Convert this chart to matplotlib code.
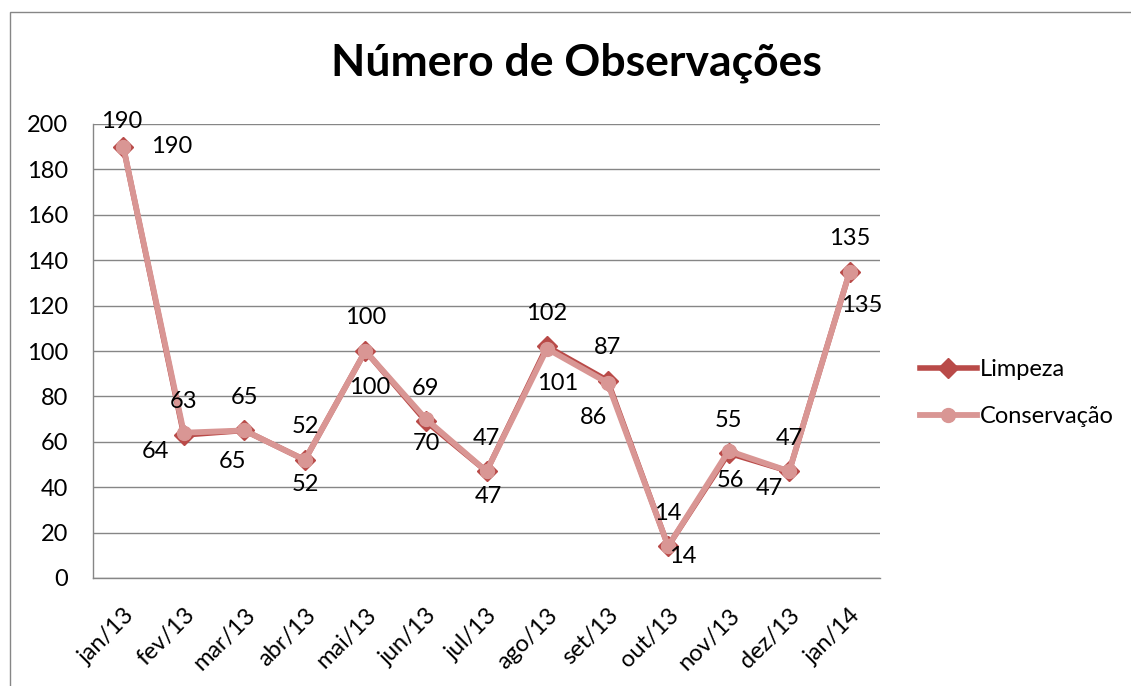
import matplotlib.pyplot as plt
from matplotlib.patches import Rectangle

plt.rcParams['font.family'] = ['Lato', 'DejaVu Sans']

months = ["jan/13", "fev/13", "mar/13", "abr/13", "mai/13", "jun/13", "jul/13",
          "ago/13", "set/13", "out/13", "nov/13", "dez/13", "jan/14"]
limpeza = [190, 63, 65, 52, 100, 69, 47, 102, 87, 14, 55, 47, 135]
conservacao = [190, 64, 65, 52, 100, 70, 47, 101, 86, 14, 56, 47, 135]

# label offsets in pixels (dx, dy with y down)
limp_off = [(-2, -25)] + [(0, -33)] * 12
cons_off = [(48, 0), (-28, 19), (-12, 31), (0, 25), (4, 36), (0, 24), (2, 25),
            (11, 35), (-14, 35), (15, 10), (2, 30), (-20, 17), (12, 34)]

C_LIMP = "#B94A48"
C_CONS = "#D99694"
GRID = "#868686"
FS = 17

fig = plt.figure(figsize=(11.31, 6.86), dpi=100)
ax = fig.add_axes([93 / 1131, 108 / 686, 787 / 1131, 454 / 686])

x = list(range(len(months)))
ax.plot(x, limpeza, color=C_LIMP, lw=4, marker="D", ms=10,
        mfc=C_LIMP, mec=C_LIMP, label="Limpeza", zorder=3)
ax.plot(x, conservacao, color=C_CONS, lw=4.2, marker="o", ms=10,
        mfc=C_CONS, mec=C_CONS, label="Conservação", zorder=4)

for i, v in enumerate(limpeza):
    dx, dy = limp_off[i]
    ax.annotate(str(v), (i, v), xytext=(dx, -dy), textcoords="offset pixels",
                ha="center", va="center", fontsize=FS, zorder=5,
                annotation_clip=False)
for i, v in enumerate(conservacao):
    dx, dy = cons_off[i]
    ax.annotate(str(v), (i, v), xytext=(dx, -dy), textcoords="offset pixels",
                ha="center", va="center", fontsize=FS, zorder=5,
                annotation_clip=False)

ax.set_xlim(-0.5, len(months) - 0.5)
ax.set_ylim(0, 200)
ax.set_yticks(range(0, 201, 20))
ax.set_xticks(x)
ax.set_xticklabels(months, rotation=45, ha="right", rotation_mode="anchor")
ax.tick_params(length=0, labelsize=FS)
ax.tick_params(axis="y", pad=18)
ax.tick_params(axis="x", pad=19)
ax.grid(axis="y", color=GRID, lw=1)
ax.set_axisbelow(True)
for s in ["top", "right"]:
    ax.spines[s].set_visible(False)
for s in ["left", "bottom"]:
    ax.spines[s].set_color(GRID)
    ax.spines[s].set_linewidth(1)

fig.text(576 / 1131, 1 - 63 / 686, "Número de Observações", ha="center",
         va="center", fontsize=32, fontweight="bold")

ax.legend(loc="center left", bbox_to_anchor=(920 / 1131, 1 - 393 / 686),
          bbox_transform=fig.transFigure, frameon=False, fontsize=FS,
          borderpad=0, borderaxespad=0, handlelength=2.4, handletextpad=0.15,
          labelspacing=1.1)

fig.add_artist(Rectangle((10 / 1131, -0.05), 1.2, 1.05 - 12 / 686,
                         transform=fig.transFigure, fill=False,
                         edgecolor=GRID, lw=1))

fig.savefig("out.png", dpi=100)
